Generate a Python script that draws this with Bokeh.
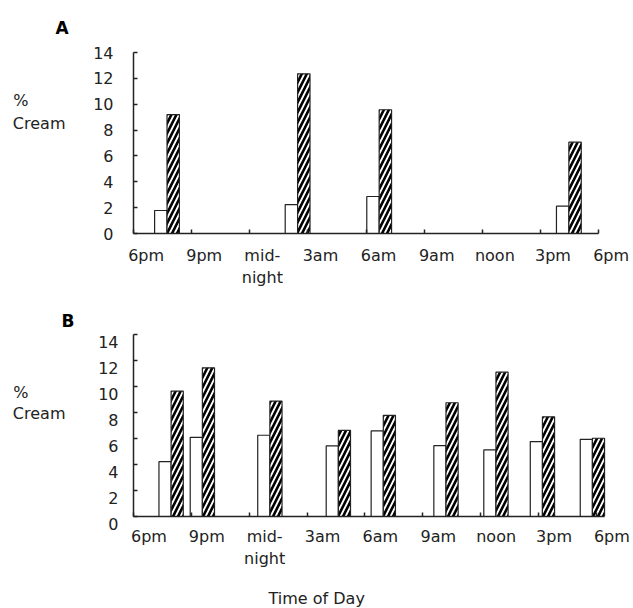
from bokeh.plotting import figure
from bokeh.models import Range1d, LinearAxis, FixedTicker, Title, ColumnDataSource
from bokeh.layouts import column
from bokeh.embed import file_html
from bokeh.resources import INLINE

# ---- data ----
tick_hours = [0, 3, 6, 9, 12, 15, 18, 21, 24]
tick_labels = ["6pm", "9pm", "mid-\nnight", "3am", "6am", "9am", "noon", "3pm", "6pm"]
y_ticks = [0, 2, 4, 6, 8, 10, 12, 14]

# panel A: hours after 6pm at which samples were taken
a_hours = [1.73, 8.47, 12.68, 22.47]
a_control = [1.78, 2.24, 2.86, 2.11]
a_treated = [9.2, 12.35, 9.57, 7.06]

# panel B
b_hours = [1.95, 3.57, 7.07, 10.62, 12.95, 16.2, 18.79, 21.2, 23.79]
b_control = [4.22, 6.09, 6.25, 5.43, 6.58, 5.45, 5.12, 5.76, 5.94]
b_treated = [9.65, 11.44, 8.88, 6.63, 7.78, 8.75, 11.1, 7.67, 6.02]

FONT = "DejaVu Sans"
INK = "#222222"
W = 633


def label_axis(tick, text, standoff, line_height=1.17):
    return LinearAxis(ticker=FixedTicker(ticks=[tick]),
                      major_label_overrides={tick: text},
                      axis_line_color=None, major_tick_line_color=None,
                      major_tick_in=0, major_tick_out=0, minor_tick_line_color=None,
                      major_label_standoff=standoff, major_label_text_font=FONT,
                      major_label_text_font_size="16px", major_label_text_color=INK,
                      major_label_text_line_height=line_height)


def panel(hours, ctrl, trt, letter, axis_end, px_per_h, bar_w, x_off, height,
          mb_left, mb_right, mb_top, mb_bottom, x_standoff, y_standoff, y_drop,
          cream_y, cream_standoff, pct_y, pct_standoff, letter_offset, letter_standoff,
          xlabel=None):
    frame_w = W - mb_left - mb_right
    p = figure(width=W, height=height, x_range=Range1d(0, frame_w / px_per_h),
               y_range=Range1d(0, 14),
               x_axis_type=None, y_axis_type=None, toolbar_location=None,
               output_backend="svg", min_border_left=mb_left, min_border_right=mb_right,
               min_border_top=mb_top, min_border_bottom=mb_bottom)
    p.outline_line_color = None
    p.background_fill_color = "white"
    p.border_fill_color = "white"

    # x axis line + tick marks (ticks point up, into the plot)
    xline = LinearAxis(bounds=(0, axis_end),
                       ticker=FixedTicker(ticks=[], minor_ticks=tick_hours),
                       major_tick_line_color=None, major_tick_in=0, major_tick_out=0,
                       minor_tick_in=4, minor_tick_out=0, minor_tick_line_color=INK,
                       minor_tick_line_width=1.5, axis_line_color=INK, axis_line_width=1.5,
                       major_label_standoff=0)
    p.add_layout(xline, "below")

    # x tick labels, drawn a little to the right of each tick (as in the original)
    lab_pos = [t + x_off for t in tick_hours]
    xlab = LinearAxis(ticker=FixedTicker(ticks=lab_pos),
                      major_label_overrides={v: l for v, l in zip(lab_pos, tick_labels)},
                      axis_line_color=None, major_tick_line_color=None,
                      major_tick_in=0, major_tick_out=0, minor_tick_line_color=None,
                      major_label_standoff=x_standoff, major_label_text_font=FONT,
                      major_label_text_font_size="16px", major_label_text_color=INK,
                      major_label_text_line_height=1.17)
    p.add_layout(xlab, "below")

    ya = LinearAxis(ticker=FixedTicker(ticks=y_ticks),
                    major_tick_in=4, major_tick_out=0, major_tick_line_color=INK,
                    major_tick_line_width=1.5, minor_tick_line_color=None,
                    axis_line_color=INK, axis_line_width=1.5,
                    major_label_standoff=y_standoff, major_label_text_font=FONT,
                    major_label_text_font_size="16px", major_label_text_color=INK)
    if y_drop:
        # labels in panel B sit slightly below their ticks
        ya.major_label_overrides = {t: "\n" + str(t) for t in y_ticks}
        ya.major_label_text_line_height = y_drop
    p.add_layout(ya, "left")

    # "% Cream" unit label (two stacked pieces, both left-justified)
    p.add_layout(label_axis(cream_y, "Cream", cream_standoff), "left")
    p.add_layout(label_axis(pct_y, "%", pct_standoff), "left")

    src = ColumnDataSource(dict(
        xc=[h - bar_w / 2 for h in hours], xt=[h + bar_w / 2 for h in hours],
        c=ctrl, t=trt))
    p.vbar(x="xc", top="c", bottom=0, width=bar_w, source=src,
           fill_color="white", line_color=INK, line_width=1.2)
    p.vbar(x="xt", top="t", bottom=0, width=bar_w, source=src,
           fill_color="white", line_color=INK, line_width=1.2,
           hatch_pattern="/", hatch_color="black", hatch_scale=10, hatch_weight=2.6)

    p.add_layout(Title(text=letter, text_font=FONT, text_font_size="17px",
                       text_font_style="bold", text_color="black", align="left",
                       offset=letter_offset, standoff=letter_standoff), "above")
    if xlabel is not None:
        p.add_layout(Title(text=xlabel[0], text_font=FONT, text_font_size="16px",
                           text_font_style="normal", text_color=INK, align="left",
                           offset=xlabel[1], standoff=xlabel[2]), "below")
    return p


pa = panel(a_hours, a_control, a_treated, "A", axis_end=24, px_per_h=19.375, bar_w=0.64,
           x_off=0.65, height=295, mb_left=133, mb_right=19, mb_top=52, mb_bottom=62,
           x_standoff=12, y_standoff=20, y_drop=None,
           cream_y=8.51, cream_standoff=25, pct_y=10.29, pct_standoff=-19,
           letter_offset=-78, letter_standoff=30)

pb = panel(b_hours, b_control, b_treated, "B", axis_end=24.42, px_per_h=19.53, bar_w=0.63,
           x_off=0.8, height=331, mb_left=127, mb_right=19, mb_top=39, mb_bottom=110,
           x_standoff=10, y_standoff=15, y_drop=0.83,
           cream_y=7.96, cream_standoff=30, pct_y=9.57, pct_standoff=-19,
           letter_offset=-72, letter_standoff=7,
           xlabel=("Time of Day", 135, 33))

layout = column(pa, pb, spacing=0)
open("out.html", "w").write(file_html(layout, INLINE))
